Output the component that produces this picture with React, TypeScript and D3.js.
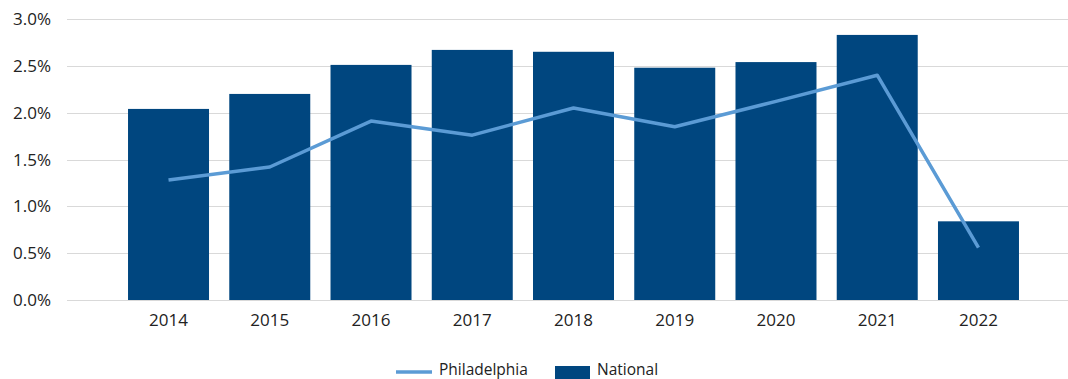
import React, { useEffect, useRef } from "react";
import * as d3 from "d3";

const years = ["2014", "2015", "2016", "2017", "2018", "2019", "2020", "2021", "2022"];
const national = [2.04, 2.2, 2.51, 2.67, 2.65, 2.48, 2.54, 2.83, 0.84];
const philadelphia = [1.28, 1.42, 1.91, 1.76, 2.05, 1.85, 2.12, 2.4, 0.56];
const yTicks = [0, 0.5, 1.0, 1.5, 2.0, 2.5, 3.0];

const W = 1068;
const H = 379;
const FONT = "'Open Sans', 'Noto Sans', sans-serif";

export default function App() {
  const ref = useRef<SVGSVGElement | null>(null);

  useEffect(() => {
    const svg = d3.select(ref.current);
    svg.selectAll("*").remove();

    const x = d3.scaleBand<string>().domain(years).range([117.9, 1029.1]).paddingInner(0.2).paddingOuter(0.1);
    const y = d3.scaleLinear().domain([0, 3]).range([300, 19]);

    const g = svg.append("g");

    g.selectAll("line.grid")
      .data(yTicks)
      .enter()
      .append("line")
      .attr("x1", 67)
      .attr("x2", 1068)
      .attr("y1", (d) => Math.round(y(d)) + 0.5)
      .attr("y2", (d) => Math.round(y(d)) + 0.5)
      .attr("stroke", "#d9d9d9")
      .attr("stroke-width", 1);

    g.selectAll("text.ytick")
      .data(yTicks)
      .enter()
      .append("text")
      .attr("x", 51)
      .attr("y", (d) => y(d))
      .attr("dy", "0.36em")
      .attr("text-anchor", "end")
      .attr("font-family", FONT)
      .attr("font-size", 17)
      .attr("fill", "#222")
      .text((d) => d.toFixed(1) + "%");

    g.selectAll("rect.bar")
      .data(years)
      .enter()
      .append("rect")
      .attr("x", (d) => x(d)!)
      .attr("width", x.bandwidth())
      .attr("y", (d, i) => y(national[i]))
      .attr("height", (d, i) => y(0) - y(national[i]))
      .attr("fill", "#00467f");

    const line = d3
      .line<number>()
      .x((d, i) => x(years[i])! + x.bandwidth() / 2)
      .y((d) => y(d));

    g.append("path")
      .datum(philadelphia)
      .attr("d", line)
      .attr("fill", "none")
      .attr("stroke", "#5b9bd5")
      .attr("stroke-width", 3.5)
      .attr("stroke-linejoin", "round");

    g.selectAll("text.xtick")
      .data(years)
      .enter()
      .append("text")
      .attr("x", (d) => x(d)! + x.bandwidth() / 2)
      .attr("y", 326)
      .attr("text-anchor", "middle")
      .attr("font-family", FONT)
      .attr("font-size", 17)
      .attr("fill", "#222")
      .text((d) => d);

    const leg = g.append("g");
    leg.append("line").attr("x1", 396).attr("x2", 432).attr("y1", 372).attr("y2", 372).attr("stroke", "#5b9bd5").attr("stroke-width", 3.5);
    leg.append("text").attr("x", 439).attr("y", 375).attr("font-family", FONT).attr("font-size", 15.5).attr("fill", "#222").text("Philadelphia");
    leg.append("rect").attr("x", 555).attr("y", 366).attr("width", 35).attr("height", 13).attr("fill", "#00467f");
    leg.append("text").attr("x", 597).attr("y", 375).attr("font-family", FONT).attr("font-size", 15.5).attr("fill", "#222").text("National");
  }, []);

  return (
    <svg
      ref={ref}
      width={W}
      height={H}
      style={{ position: "absolute", left: 0, top: 0, background: "#fff" }}
    />
  );
}
